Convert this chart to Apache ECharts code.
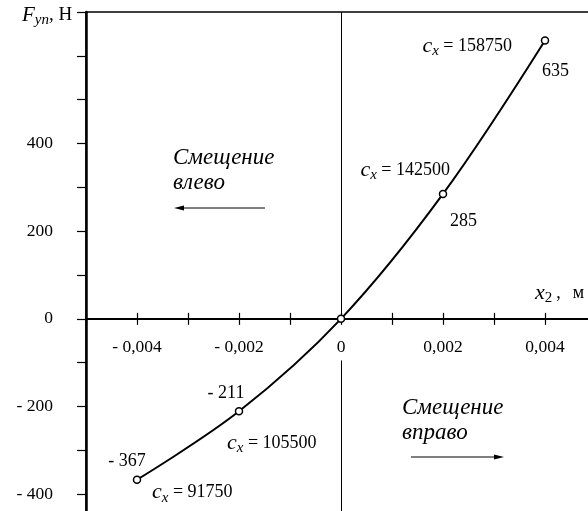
<!DOCTYPE html>
<html>
<head>
<meta charset="utf-8">
<script src="https://cdn.jsdelivr.net/npm/echarts@6/dist/echarts.min.js"></script>
<style>
  html, body { margin: 0; padding: 0; background: #fff; }
  #chart { width: 588px; height: 511px; }
</style>
</head>
<body>
<div id="chart"></div>
<script>
// данные графика
const xValues = [-0.004, -0.002, 0, 0.002, 0.004];          // x2, м
const forceValues = [-367, -211, 0, 285, 635];               // F уп, Н
const stiffnessValues = [91750, 105500, null, 142500, 158750]; // c_x
const xTickLabels = { '-4': '- 0,004', '-2': '- 0,002', '0': '0', '2': '0,002', '4': '0,004' };
const yTickLabels = { '400': '400', '200': '200', '0': '0', '-200': '- 200', '-400': '- 400' };

const FONT = 'Liberation Serif';

// сетка
const Y_MIN = -500, Y_MAX = 700;
const GRID_TOP = 12, GRID_H = 526;
const zeroFromTop = GRID_H * Y_MAX / (Y_MAX - Y_MIN);
const zeroFromBottom = GRID_H - zeroFromTop;

// расположение подписей у точек
const valueLabelLayout = [
  { align: 'center', offset: [-10, -18] },
  { align: 'center', offset: [-13, -18] },
  null,
  { align: 'left', offset: [7, 27] },
  { align: 'left', offset: [-3, 31] }
];
const cxLabelLayout = [
  { align: 'left', offset: [15, 13] },
  { align: 'left', offset: [-12, 32] },
  null,
  { align: 'right', offset: [7, -24] },
  { align: 'right', offset: [-33, 6] }
];

const richStyles = {
  i: { fontFamily: FONT, fontStyle: 'italic', fontSize: 22, color: '#000' },
  s: { fontFamily: FONT, fontStyle: 'italic', fontSize: 15, color: '#000', padding: [10, 0, 0, 0] },
  n: { fontFamily: FONT, fontSize: 18, color: '#000' }
};

const fmtNum = v => (v < 0 ? '- ' + Math.abs(v) : String(v));

const lineData = xValues.map((x, i) => {
  const lay = valueLabelLayout[i];
  return {
    value: [x, forceValues[i]],
    label: lay ? {
      show: true, position: 'inside', align: lay.align, verticalAlign: 'middle',
      offset: lay.offset, formatter: fmtNum(forceValues[i]),
      color: '#000', textBorderWidth: 0
    } : { show: false }
  };
});

const cxData = xValues.map((x, i) => {
  const lay = cxLabelLayout[i];
  return {
    value: [x, forceValues[i]],
    label: lay ? {
      show: true, position: 'inside', align: lay.align, verticalAlign: 'middle',
      offset: lay.offset,
      formatter: '{i|c}{s|x}{n| = ' + stiffnessValues[i] + '}',
      rich: richStyles, color: '#000', textBorderWidth: 0
    } : { show: false }
  };
});

const chart = echarts.init(document.getElementById('chart'));

const xAxisBase = {
  type: 'value', min: -0.005, max: 0.005, interval: 0.001,
  splitLine: { show: false }
};

const option = {
  animation: false,
  backgroundColor: '#fff',
  textStyle: { fontFamily: FONT, color: '#000' },
  grid: {
    left: 86, top: GRID_TOP, width: 510, height: GRID_H,
    outerBoundsMode: 'none',
    containLabel: false,
    show: true, borderColor: '#000', borderWidth: 1.5, backgroundColor: 'transparent'
  },
  xAxis: [
    // нижняя половина делений и подписи
    Object.assign({}, xAxisBase, {
      position: 'bottom',
      offset: -zeroFromBottom,
      axisLine: { onZero: false, lineStyle: { color: '#000', width: 2 } },
      axisTick: { show: true, inside: false, length: 6, lineStyle: { color: '#000', width: 1.2 } },
      axisLabel: {
        margin: 20, fontSize: 17.5, fontFamily: FONT, color: '#000',
        formatter: v => xTickLabels[String(Math.round(v * 1000))] || ''
      }
    }),
    // верхняя половина делений
    Object.assign({}, xAxisBase, {
      position: 'top',
      offset: -zeroFromTop,
      axisLine: { onZero: false, lineStyle: { color: '#000', width: 2 } },
      axisTick: { show: true, inside: false, length: 6, lineStyle: { color: '#000', width: 1.2 } },
      axisLabel: { show: false }
    })
  ],
  yAxis: {
    type: 'value', min: Y_MIN, max: Y_MAX, interval: 100,
    axisLine: { onZero: false, lineStyle: { color: '#000', width: 2.5 } },
    axisTick: { show: true, inside: false, length: 9, lineStyle: { color: '#000', width: 1.2 } },
    axisLabel: {
      margin: 33, fontSize: 17.5, fontFamily: FONT, color: '#000',
      formatter: v => yTickLabels[String(Math.round(v))] || ''
    },
    splitLine: { show: false }
  },
  series: [
    {
      type: 'line',
      data: lineData,
      smooth: 0.35,
      symbol: 'circle',
      symbolSize: 7,
      z: 5,
      lineStyle: { color: '#000', width: 2 },
      itemStyle: { color: '#fff', borderColor: '#000', borderWidth: 1.5 },
      label: { fontFamily: FONT, fontSize: 18, color: '#000' },
      markLine: {
        silent: true,
        symbol: 'none',
        label: { show: false },
        lineStyle: { color: '#000', width: 1, type: 'solid' },
        data: [
          [{ coord: [0, Y_MAX] }, { coord: [0, 0] }],
          [{ coord: [0, -95] }, { coord: [0, Y_MIN] }]
        ]
      }
    },
    {
      type: 'scatter',
      data: cxData,
      symbolSize: 0.1,
      itemStyle: { color: 'transparent', opacity: 1 },
      z: 6
    }
  ],
  graphic: [
    {
      type: 'text', left: 22, top: 5,
      style: { text: '{i|F}{s|уп}{n|, Н}', rich: {
        i: { fontFamily: FONT, fontStyle: 'italic', fontSize: 21, color: '#000' },
        s: { fontFamily: FONT, fontStyle: 'italic', fontSize: 15, color: '#000', padding: [10, 0, 0, 0] },
        n: { fontFamily: FONT, fontSize: 19, color: '#000' }
      } }
    },
    {
      type: 'text', left: 535, top: 282,
      style: { text: '{i|x}{s|2}{n|,}{m|м}', rich: {
        i: { fontFamily: FONT, fontStyle: 'italic', fontSize: 22, color: '#000' },
        s: { fontFamily: FONT, fontSize: 15, color: '#000', padding: [10, 0, 0, 0] },
        n: { fontFamily: FONT, fontSize: 18, color: '#000', padding: [0, 0, 0, 4] },
        m: { fontFamily: FONT, fontSize: 18, color: '#000', padding: [0, 0, 0, 12] }
      } }
    },
    {
      type: 'text', left: 173, top: 145,
      style: { text: 'Смещение\nвлево', font: 'italic 23px "Liberation Serif"', lineHeight: 25, fill: '#000' }
    },
    {
      type: 'text', left: 402, top: 395,
      style: { text: 'Смещение\nвправо', font: 'italic 23px "Liberation Serif"', lineHeight: 25, fill: '#000' }
    },
    { type: 'line', shape: { x1: 180, y1: 208, x2: 265, y2: 208 }, style: { stroke: '#000', lineWidth: 1 } },
    { type: 'polygon', shape: { points: [[174, 208], [184, 205.5], [184, 210.5]] }, style: { fill: '#000' } },
    { type: 'line', shape: { x1: 411, y1: 457, x2: 498, y2: 457 }, style: { stroke: '#000', lineWidth: 1 } },
    { type: 'polygon', shape: { points: [[504, 457], [494, 454.5], [494, 459.5]] }, style: { fill: '#000' } }
  ]
};

chart.setOption(option);
</script>
</body>
</html>
